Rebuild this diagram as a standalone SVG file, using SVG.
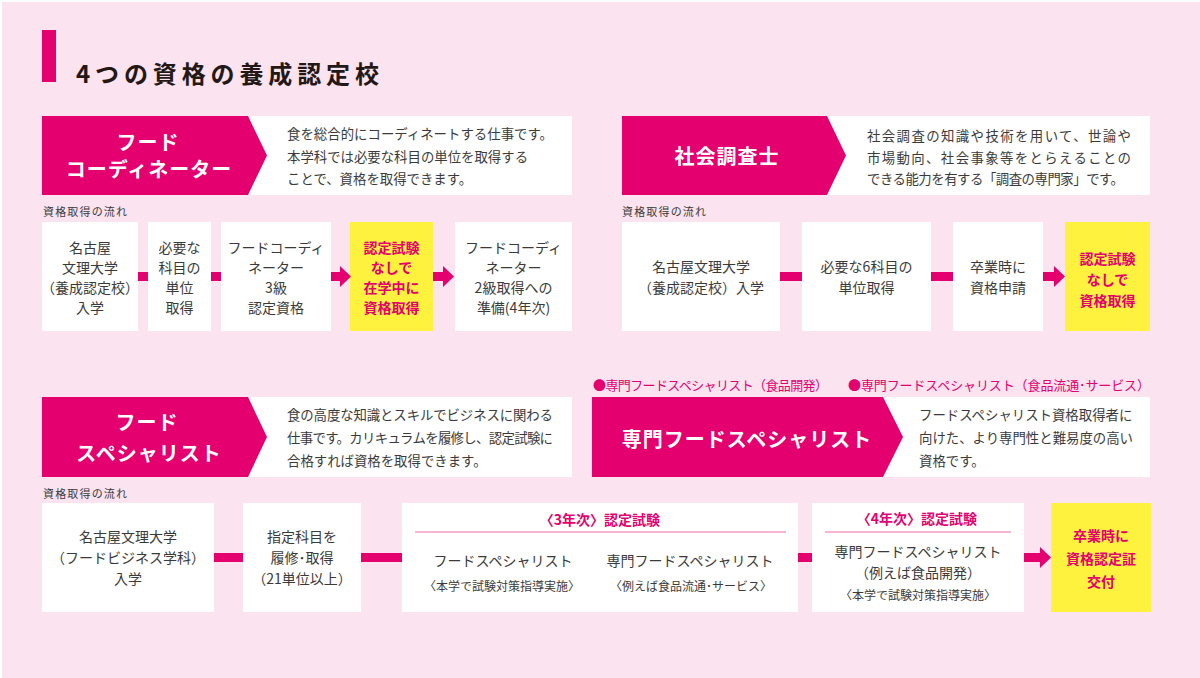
<svg xmlns="http://www.w3.org/2000/svg" width="1200" height="678" viewBox="0 0 1200 678">
<style>
text{font-family:"Noto Sans CJK JP","Noto Sans",sans-serif;dominant-baseline:central}
.bg{fill:#fbe3ef}
.pk{fill:#e4006e}
.wh{fill:#ffffff}
.yl{fill:#fff23f}
.ht{fill:#ffffff;font-weight:bold;font-size:20px;text-anchor:middle;letter-spacing:1px}
.ds{fill:#3a3a3a;font-size:13.4px}
.fl{fill:#3a3a3a;font-size:11px}
.bt{fill:#3a3a3a;font-size:14px;text-anchor:middle}
.st{fill:#3a3a3a;font-size:12px;text-anchor:middle}
.yt{fill:#e4006e;font-size:14px;font-weight:bold;text-anchor:middle}
.bl{fill:#e4006e;font-size:13px}
.sep{stroke:#ef6aa6;stroke-width:1}
</style>
<rect x="0" y="0" width="1200" height="678" fill="#ffffff"/>
<rect class="bg" x="2" y="2" width="1198" height="676"/>

<g id="title">
<rect class="pk" x="42" y="30" width="14" height="52"/>
<text x="76" y="72" font-size="24" font-weight="bold" fill="#231815" textLength="303" lengthAdjust="spacing">4つの資格の養成認定校</text>
</g>

<!-- Section 1: Food coordinator -->
<g id="fc-header">
<rect class="wh" x="42" y="116" width="530" height="79"/>
<polygon class="pk" points="42,116 248,116 267,155.5 248,195 42,195"/>
<text class="ht" x="148" y="141">フード</text>
<text class="ht" x="149" y="168">コーディネーター</text>
<text class="ds" x="287" y="133" textLength="266" lengthAdjust="spacing">食を総合的にコーディネートする仕事です。</text>
<text class="ds" x="287" y="156">本学科では必要な科目の単位を取得する</text>
<text class="ds" x="287" y="178">ことで、資格を取得できます。</text>
</g>
<text class="fl" x="43" y="211" textLength="84" lengthAdjust="spacing">資格取得の流れ</text>
<g id="fc-1">
<rect class="wh" x="42" y="222" width="96" height="109"/>
<text class="bt" x="90" y="247">名古屋</text>
<text class="bt" x="90" y="267">文理大学</text>
<text class="bt" x="90" y="287">（養成認定校）</text>
<text class="bt" x="90" y="307">入学</text>
</g>
<g id="fc-2">
<rect class="wh" x="148" y="222" width="63" height="109"/>
<text class="bt" x="179.5" y="247">必要な</text>
<text class="bt" x="179.5" y="267">科目の</text>
<text class="bt" x="179.5" y="287">単位</text>
<text class="bt" x="179.5" y="307">取得</text>
</g>
<g id="fc-3">
<rect class="wh" x="221" y="222" width="110" height="109"/>
<text class="bt" x="276" y="247">フードコーディ</text>
<text class="bt" x="276" y="267">ネーター</text>
<text class="bt" x="276" y="287">3級</text>
<text class="bt" x="276" y="307">認定資格</text>
</g>
<g id="fc-4">
<rect class="yl" x="350" y="222" width="83" height="109"/>
<text class="yt" x="391.5" y="247">認定試験</text>
<text class="yt" x="391.5" y="267">なしで</text>
<text class="yt" x="391.5" y="287">在学中に</text>
<text class="yt" x="391.5" y="307">資格取得</text>
</g>
<g id="fc-5">
<rect class="wh" x="455" y="222" width="117" height="109"/>
<text class="bt" x="513.5" y="247">フードコーディ</text>
<text class="bt" x="513.5" y="267">ネーター</text>
<text class="bt" x="513.5" y="287">2級取得への</text>
<text class="bt" x="513.5" y="307">準備(4年次)</text>
</g>

<!-- Section 2: Social researcher -->
<g id="sr-header">
<rect class="wh" x="622" y="116" width="528" height="79"/>
<polygon class="pk" points="622,116 827,116 846,155.5 827,195 622,195"/>
<text class="ht" x="727" y="155.5" font-size="22">社会調査士</text>
<text class="ds" x="867" y="135" textLength="264" lengthAdjust="spacing">社会調査の知識や技術を用いて、世論や</text>
<text class="ds" x="867" y="157" textLength="264" lengthAdjust="spacing">市場動向、社会事象等をとらえることの</text>
<text class="ds" x="867" y="178" textLength="257" lengthAdjust="spacing">できる能力を有する「調査の専門家」です。</text>
</g>
<text class="fl" x="622" y="211" textLength="84" lengthAdjust="spacing">資格取得の流れ</text>
<g id="sr-1">
<rect class="wh" x="622" y="222" width="158" height="109"/>
<text class="bt" x="701" y="266">名古屋文理大学</text>
<text class="bt" x="701" y="287">（養成認定校）入学</text>
</g>
<g id="sr-2">
<rect class="wh" x="802" y="222" width="129" height="109"/>
<text class="bt" x="866.5" y="266">必要な6科目の</text>
<text class="bt" x="866.5" y="287">単位取得</text>
</g>
<g id="sr-3">
<rect class="wh" x="953" y="222" width="90" height="109"/>
<text class="bt" x="998" y="266">卒業時に</text>
<text class="bt" x="998" y="287">資格申請</text>
</g>
<g id="sr-4">
<rect class="yl" x="1065" y="222" width="85" height="109"/>
<text class="yt" x="1107.5" y="258">認定試験</text>
<text class="yt" x="1107.5" y="279">なしで</text>
<text class="yt" x="1107.5" y="300">資格取得</text>
</g>

<!-- Section 3: Food specialist -->
<g id="fs-header">
<rect class="wh" x="42" y="397" width="530" height="80"/>
<polygon class="pk" points="42,397 248,397 267,437 248,477 42,477"/>
<text class="ht" x="147" y="421">フード</text>
<text class="ht" x="149" y="452" letter-spacing="0">スペシャリスト</text>
<text class="ds" x="287" y="414" textLength="266" lengthAdjust="spacing">食の高度な知識とスキルでビジネスに関わる</text>
<text class="ds" x="287" y="437" textLength="266" lengthAdjust="spacing">仕事です。カリキュラムを履修し、認定試験に</text>
<text class="ds" x="287" y="460">合格すれば資格を取得できます。</text>
</g>
<text class="fl" x="43" y="493" textLength="84" lengthAdjust="spacing">資格取得の流れ</text>
<g id="fs-1">
<rect class="wh" x="42" y="503" width="172" height="109"/>
<text class="bt" x="128" y="536">名古屋文理大学</text>
<text class="bt" x="128" y="557">（フードビジネス学科）</text>
<text class="bt" x="128" y="578">入学</text>
</g>
<g id="fs-2">
<rect class="wh" x="243" y="503" width="118" height="109"/>
<text class="bt" x="302" y="536">指定科目を</text>
<text class="bt" x="302" y="557">履修･取得</text>
<text class="bt" x="302" y="578">（21単位以上）</text>
</g>
<g id="fs-3">
<rect class="wh" x="402" y="503" width="396" height="109"/>
<text class="yt" x="600" y="519">〈3年次〉認定試験</text>
<line class="sep" x1="415" y1="532" x2="786" y2="532"/>
<text class="bt" x="503" y="560">フードスペシャリスト</text>
<text class="st" x="502" y="585">〈本学で試験対策指導実施〉</text>
<text class="bt" x="690" y="560">専門フードスペシャリスト</text>
<text class="st" x="691" y="585">〈例えば食品流通･サービス〉</text>
</g>
<g id="fs-4">
<rect class="wh" x="812" y="503" width="212" height="109"/>
<text class="yt" x="917" y="518">〈4年次〉認定試験</text>
<line class="sep" x1="825" y1="532" x2="1011" y2="532"/>
<text class="bt" x="918" y="551">専門フードスペシャリスト</text>
<text class="bt" x="918" y="572">（例えば食品開発）</text>
<text class="st" x="918" y="594">〈本学で試験対策指導実施〉</text>
</g>
<g id="fs-5">
<rect class="yl" x="1051" y="503" width="100" height="109"/>
<text class="yt" x="1101" y="535">卒業時に</text>
<text class="yt" x="1101" y="558">資格認定証</text>
<text class="yt" x="1101" y="581">交付</text>
</g>

<!-- Section 4: Senmon food specialist -->
<g id="sfs-header">
<text class="bl" x="593" y="384" textLength="235" lengthAdjust="spacing">●専門フードスペシャリスト（食品開発）</text>
<text class="bl" x="848" y="384" textLength="302" lengthAdjust="spacing">●専門フードスペシャリスト（食品流通･サービス）</text>
<rect class="wh" x="592" y="397" width="558" height="80"/>
<polygon class="pk" points="592,397 883,397 903,437 883,477 592,477"/>
<text class="ht" x="747" y="438" letter-spacing="0">専門フードスペシャリスト</text>
<text class="ds" x="919" y="414">フードスペシャリスト資格取得者に</text>
<text class="ds" x="919" y="437">向けた、より専門性と難易度の高い</text>
<text class="ds" x="919" y="460">資格です。</text>
</g>

<g id="connectors" class="pk">
<rect x="138" y="272" width="10" height="9"/>
<rect x="211" y="272" width="10" height="9"/>
<path d="M331,272H340V266L351,276.5L340,287V281H331Z"/>
<path d="M433,272H443V266L454,276.5L443,287V281H433Z"/>
<rect x="780" y="272" width="22" height="9"/>
<rect x="931" y="272" width="22" height="9"/>
<path d="M1043,272H1054V266L1065,276.5L1054,287V281H1043Z"/>
<rect x="214" y="553" width="29" height="9"/>
<rect x="361" y="553" width="41" height="9"/>
<rect x="798" y="553" width="14" height="9"/>
<path d="M1024,553H1040V547L1051,557.5L1040,568V562H1024Z"/>
</g>
</svg>
